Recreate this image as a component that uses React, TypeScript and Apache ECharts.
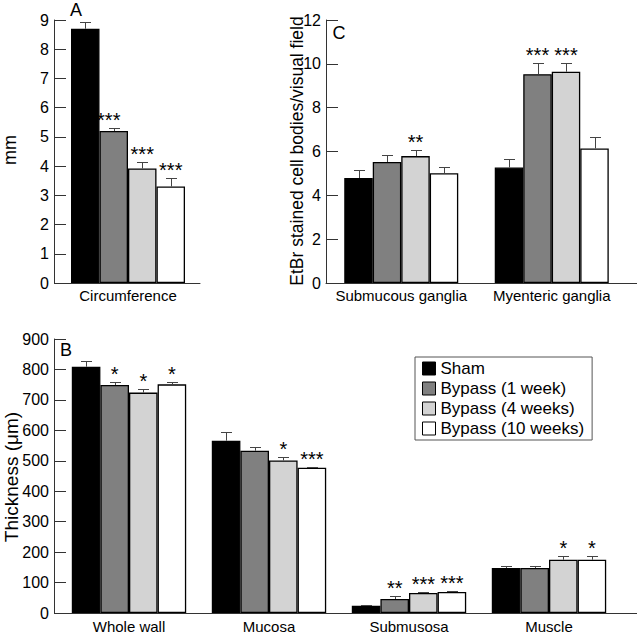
import React, { useEffect, useRef } from "react";
import * as echarts from "echarts";

// ---------- DATA ----------
const groupNames = ["Sham", "Bypass (1 week)", "Bypass (4 weeks)", "Bypass (10 weeks)"];

// Panel A (mm)
const categoriesA = ["Circumference"];
const circumferenceMean = [8.7, 5.2, 3.92, 3.3];
const circumferenceSem = [0.23, 0.1, 0.23, 0.3];
const circumferenceSig = ["", "***", "***", "***"];
const ticksA = { min: 0, max: 9, interval: 1 };

// Panel C (EtBr stained cell bodies / visual field)
const categoriesC = ["Submucous ganglia", "Myenteric ganglia"];
const submucousMean = [4.79, 5.52, 5.79, 5.01];
const submucousSem = [0.35, 0.33, 0.27, 0.29];
const submucousSig = ["", "", "**", ""];
const myentericMean = [5.27, 9.53, 9.64, 6.14];
const myentericSem = [0.39, 0.52, 0.41, 0.53];
const myentericSig = ["", "***", "***", ""];
const ticksC = { min: 0, max: 12, interval: 2 };

// Panel B (thickness, µm)
const categoriesB = ["Whole wall", "Mucosa", "Submusosa", "Muscle"];
const wholeWallMean = [809, 749, 724, 751];
const wholeWallSem = [20, 11, 12, 9];
const wholeWallSig = ["", "*", "*", "*"];
const mucosaMean = [566, 533, 501, 477];
const mucosaSem = [27, 12, 13, 4];
const mucosaSig = ["", "", "*", "***"];
const submucosaMean = [24, 46, 66, 69];
const submucosaSem = [2, 11, 2, 2];
const submucosaSig = ["", "**", "***", "***"];
const muscleMean = [148, 148, 175, 175];
const muscleSem = [5, 5, 11, 11];
const muscleSig = ["", "", "*", "*"];
const ticksB = { min: 0, max: 900, interval: 100 };

// ---------- STYLE / LAYOUT ----------
const FONT = "'Liberation Sans', Arial, Helvetica, sans-serif";
const groupColors = ["#000000", "#808080", "#d3d3d3", "#ffffff"];
const AXIS = "#333333";

type Row = { mean: number[]; sem: number[]; sig: string[] };

const panels = [
  {
    categories: categoriesA,
    rows: [{ mean: circumferenceMean, sem: circumferenceSem, sig: circumferenceSig }] as Row[],
    ticks: ticksA,
    grid: { left: 56, top: 20, width: 144, height: 263 },
    yOffset: 2,
    barWidth: 28.5,
    labelMargin: 5,
  },
  {
    categories: categoriesC,
    rows: [
      { mean: submucousMean, sem: submucousSem, sig: submucousSig },
      { mean: myentericMean, sem: myentericSem, sig: myentericSig },
    ] as Row[],
    ticks: ticksC,
    grid: { left: 326, top: 20, width: 301, height: 263 },
    yOffset: 0,
    barWidth: 28.5,
    labelMargin: 5,
  },
  {
    categories: categoriesB,
    rows: [
      { mean: wholeWallMean, sem: wholeWallSem, sig: wholeWallSig },
      { mean: mucosaMean, sem: mucosaSem, sig: mucosaSig },
      { mean: submucosaMean, sem: submucosaSem, sig: submucosaSig },
      { mean: muscleMean, sem: muscleSem, sig: muscleSig },
    ] as Row[],
    ticks: ticksB,
    grid: { left: 59, top: 339, width: 560, height: 274 },
    yOffset: 5,
    barWidth: 28.6,
    labelMargin: 6,
  },
];

// per-annotation nudges (panel-category-group): [dx, dy] in px
const annotationNudge: Record<string, [number, number]> = { "0-0-1": [-5, 0] };

function buildOption() {
  const grids: any[] = [];
  const xAxes: any[] = [];
  const yAxes: any[] = [];
  const series: any[] = [];

  panels.forEach((p, pi) => {
    grids.push({ ...p.grid, containLabel: false });
    xAxes.push({
      type: "category",
      gridIndex: pi,
      data: p.categories,
      axisLine: { show: true, lineStyle: { color: AXIS, width: 1 } },
      axisTick: { show: false },
      axisLabel: { interval: 0, fontSize: 15, color: "#000", margin: p.labelMargin, fontFamily: FONT },
      splitLine: { show: false },
    });
    yAxes.push({
      type: "value",
      gridIndex: pi,
      min: p.ticks.min,
      max: p.ticks.max,
      interval: p.ticks.interval,
      offset: p.yOffset,
      axisLine: { show: true, lineStyle: { color: AXIS, width: 1 } },
      axisTick: { show: true, inside: true, length: 12, lineStyle: { color: AXIS, width: 1 } },
      axisLabel: { fontSize: 16, color: "#000", margin: 5, fontFamily: FONT },
      splitLine: { show: false },
    });

    groupNames.forEach((name, si) => {
      series.push({
        type: "bar",
        name,
        xAxisIndex: pi,
        yAxisIndex: pi,
        barWidth: p.barWidth,
        barGap: "0%",
        data: p.rows.map((r) => r.mean[si]),
        itemStyle: { color: groupColors[si], borderColor: "#000", borderWidth: 1.3 },
        emphasis: { disabled: true },
        z: 2,
      });
    });

    const errData: number[][] = [];
    const sigLabels: string[] = [];
    const sigKeys: string[] = [];
    p.rows.forEach((r, ci) =>
      r.mean.forEach((m, si) => {
        errData.push([ci, m, r.sem[si], si]);
        sigLabels.push(r.sig[si]);
        sigKeys.push(`${pi}-${ci}-${si}`);
      })
    );
    const bw = p.barWidth;

    series.push({
      type: "custom",
      name: `err${pi}`,
      xAxisIndex: pi,
      yAxisIndex: pi,
      z: 5,
      silent: true,
      encode: { x: 0, y: 1 },
      data: errData,
      renderItem: (params: any, api: any) => {
        const ci = api.value(0);
        const m = api.value(1);
        const e = api.value(2);
        const si = api.value(3);
        const base = api.coord([ci, m]);
        const top = api.coord([ci, m + e]);
        const x = Math.round(base[0] + (si - 1.5) * bw) + 0.5;
        const yt = Math.round(top[1]) + 0.5;
        const st = { stroke: "#444", lineWidth: 1 };
        return {
          type: "group",
          children: [
            { type: "line", shape: { x1: x, y1: base[1], x2: x, y2: yt }, style: st },
            { type: "line", shape: { x1: x - 5.5, y1: yt, x2: x + 5.5, y2: yt }, style: st },
          ],
        };
      },
    });

    series.push({
      type: "custom",
      name: `sig${pi}`,
      xAxisIndex: pi,
      yAxisIndex: pi,
      z: 6,
      silent: true,
      encode: { x: 0, y: 1 },
      data: errData,
      renderItem: (params: any, api: any) => {
        const label = sigLabels[params.dataIndex];
        if (!label) return { type: "group", children: [] };
        const ci = api.value(0);
        const m = api.value(1);
        const e = api.value(2);
        const si = api.value(3);
        const top = api.coord([ci, m + e]);
        const nudge = annotationNudge[sigKeys[params.dataIndex]] || [0, 0];
        const x = top[0] + (si - 1.5) * bw + nudge[0];
        const y = top[1] - 8 + nudge[1];
        return {
          type: "text",
          x,
          y,
          style: {
            text: label,
            fontSize: 20,
            fontFamily: FONT,
            fill: "#000",
            align: "center",
            verticalAlign: "middle",
            textAlign: "center",
            textVerticalAlign: "middle",
          },
        };
      },
    });
  });

  const txt = (text: string, x: number, y: number, size: number, rotation = 0) => ({
    type: "text",
    x,
    y,
    rotation,
    z: 10,
    style: {
      text,
      fontSize: size,
      fontFamily: FONT,
      fill: "#000",
      align: "center",
      verticalAlign: "middle",
      textAlign: "center",
      textVerticalAlign: "middle",
    },
  });
  const hline = (x1: number, x2: number, y: number) => ({
    type: "line",
    z: 10,
    shape: { x1, y1: y, x2, y2: y },
    style: { stroke: AXIS, lineWidth: 1 },
  });

  const graphic = [
    txt("A", 76, 10, 18),
    txt("C", 339, 33, 18),
    txt("B", 66, 350, 18),
    txt("mm", 10, 150, 18, Math.PI / 2),
    txt("EtBr stained cell bodies/visual field", 297, 151, 17.5, Math.PI / 2),
    txt("Thickness (\u03bcm)", 11, 477, 19, Math.PI / 2),
    hline(54, 56, 283.5),
    hline(627, 637, 283.5),
    hline(54, 59, 613.5),
    hline(619, 637, 613.5),
  ];

  return {
    animation: false,
    backgroundColor: "#ffffff",
    textStyle: { fontFamily: FONT },
    grid: grids,
    xAxis: xAxes,
    yAxis: yAxes,
    legend: {
      data: groupNames,
      left: 415,
      top: 357,
      orient: "vertical",
      icon: "rect",
      itemWidth: 13,
      itemHeight: 13,
      itemGap: 3,
      padding: [3, 8, 3, 7],
      borderColor: "#555",
      borderWidth: 1,
      selectedMode: false,
      itemStyle: { borderColor: "#000", borderWidth: 1 },
      textStyle: { fontSize: 17, color: "#000", lineHeight: 17, fontFamily: FONT },
    },
    graphic,
    series,
  };
}

export default function App() {
  const ref = useRef<HTMLDivElement>(null);
  useEffect(() => {
    document.body.style.margin = "0";
    if (!ref.current) return;
    const chart = echarts.init(ref.current, undefined, { renderer: "svg" });
    chart.setOption(buildOption() as any);
    return () => chart.dispose();
  }, []);
  return <div ref={ref} style={{ width: 640, height: 634, position: "absolute", left: 0, top: 0 }} />;
}
